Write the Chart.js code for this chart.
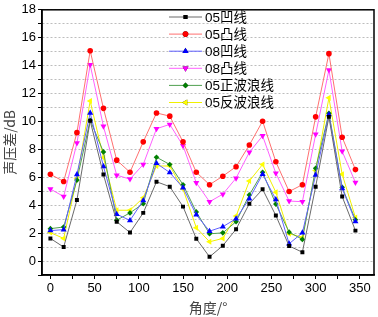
<!DOCTYPE html>
<html>
<head>
<meta charset="utf-8">
<script src="https://cdn.jsdelivr.net/npm/chart.js@4.4.1/dist/chart.umd.min.js"></script>
<style>
  html, body { margin: 0; padding: 0; background: #fff; }
  #wrap { width: 378px; height: 317px; }
</style>
</head>
<body>
<div id="wrap"><canvas id="c"></canvas></div>
<script>
// 角度 (x)
const angles = [0, 15, 30, 45, 60, 75, 90, 105, 120, 135, 150, 165, 180, 195, 210, 225, 240, 255, 270, 285, 300, 315, 330, 345];

// 各系列 声压差/dB
const s05ao = [1.62, 1.0, 4.37, 10.05, 6.2, 2.82, 2.04, 3.45, 5.68, 5.33, 3.9, 1.6, 0.3, 1.1, 2.28, 4.11, 5.14, 3.26, 1.08, 0.63, 5.33, 10.33, 4.62, 2.18];
const s05tu = [6.22, 5.7, 9.2, 15.07, 10.94, 7.23, 6.36, 8.54, 10.61, 10.38, 8.54, 6.36, 5.47, 6.08, 6.76, 8.31, 10.02, 7.11, 4.98, 5.47, 10.33, 14.86, 8.87, 6.55];
const s08ao = [2.18, 2.25, 6.2, 10.61, 6.78, 3.36, 2.91, 4.34, 7.0, 6.34, 5.25, 3.31, 2.14, 2.46, 3.03, 4.46, 6.22, 4.41, 1.24, 2.02, 6.17, 10.49, 5.2, 2.84];
const s08tu = [5.16, 4.62, 8.45, 14.06, 9.65, 6.15, 5.87, 6.92, 9.48, 9.79, 8.26, 5.61, 4.25, 4.79, 5.94, 7.79, 8.97, 6.29, 4.3, 4.25, 9.08, 13.69, 7.86, 5.63];
const s05zheng = [2.32, 2.44, 5.8, 10.09, 7.82, 2.93, 3.45, 4.11, 7.44, 6.92, 5.47, 3.52, 1.95, 2.02, 2.82, 4.74, 6.36, 4.08, 2.07, 1.55, 6.64, 10.59, 5.28, 2.96];
const s05fan = [2.04, 1.62, 5.92, 11.46, 7.42, 3.64, 3.64, 4.53, 6.81, 6.81, 5.16, 2.39, 1.38, 1.62, 3.22, 5.73, 6.92, 4.93, 1.95, 1.71, 6.48, 11.69, 6.22, 3.12];

const seriesNames = ['05凹线', '05凸线', '08凹线', '08凸线', '05正波浪线', '05反波浪线'];

// 刻度 (主刻度带标签, 次刻度无标签)
const xTicks = [0, 25, 50, 75, 100, 125, 150, 175, 200, 225, 250, 275, 300, 325, 350];
const xLabeled = [0, 50, 100, 150, 200, 250, 300, 350];
const yTicks = [-1, 0, 1, 2, 3, 4, 5, 6, 7, 8, 9, 10, 11, 12, 13, 14, 15, 16, 17, 18];
const yLabeled = [0, 2, 4, 6, 8, 10, 12, 14, 16, 18];

const toXY = (arr) => arr.map((v, i) => ({x: angles[i], y: v}));

function ds(label, values, line, point, style, rot) {
    return {
        label: label,
        data: toXY(values),
        borderColor: line,
        borderWidth: 1,
        backgroundColor: point,
        pointBackgroundColor: point,
        pointBorderColor: point,
        pointBorderWidth: 0,
        pointStyle: style,
        pointRotation: rot || 0,
        pointRadius: style === 'triangle' ? 3.5 : 2.8,
        tension: 0,
    };
}

const datasets = [
    ds(seriesNames[0], s05ao, '#6a6a6a', '#000000', 'rect'),
    ds(seriesNames[1], s05tu, '#ff7070', '#ff0000', 'circle'),
    ds(seriesNames[2], s08ao, '#6060ff', '#0000ff', 'triangle'),
    ds(seriesNames[3], s08tu, '#ff60ff', '#ff00ff', 'triangle', 180),
    ds(seriesNames[4], s05zheng, '#50a050', '#008000', 'rectRot'),
    ds(seriesNames[5], s05fan, '#f0f000', '#ffff00', 'triangle', -90),
];

// 图内图例 + 外框
const frameLegend = {
    id: 'frameLegend',
    afterDraw(chart) {
        const c = chart.ctx;
        const a = chart.chartArea;
        c.save();
        c.strokeStyle = '#000';
        c.lineWidth = 1.5;
        c.strokeRect(a.left, a.top, a.right - a.left, a.bottom - a.top);

        c.font = '13.5px "Liberation Sans", "Noto Sans CJK SC", sans-serif';
        c.textBaseline = 'middle';
        c.fillStyle = '#000';
        chart.data.datasets.forEach((d, i) => {
            const y = 17 + i * 17.1;
            c.strokeStyle = d.borderColor;
            c.lineWidth = 1;
            c.beginPath();
            c.moveTo(169, y);
            c.lineTo(202, y);
            c.stroke();
            Chart.helpers.drawPoint(c, {
                pointStyle: d.pointStyle,
                rotation: d.pointRotation,
                radius: d.pointRadius,
                borderWidth: 0,
            }, 185.5, y);
            c.fillStyle = d.pointBackgroundColor;
            c.fill();
            c.fillStyle = '#000';
            c.fillText(d.label, 205, y + 1);
        });
        c.restore();
    }
};

const tickFont = {family: '"Liberation Sans", Arial, sans-serif', size: 13};

new Chart(document.getElementById('c'), {
    type: 'line',
    data: {datasets: datasets},
    plugins: [frameLegend],
    options: {
        responsive: true,
        maintainAspectRatio: false,
        animation: false,
        layout: {padding: {top: 5, right: 1, left: 0, bottom: 0}},
        plugins: {
            legend: {display: false},
            tooltip: {enabled: false},
        },
        scales: {
            x: {
                type: 'linear',
                min: -9.5,
                max: 366,
                afterBuildTicks: (axis) => { axis.ticks = xTicks.map(v => ({value: v})); },
                afterFit: (axis) => { axis.height = 42; },
                ticks: {
                    autoSkip: false,
                    maxRotation: 0,
                    padding: 2,
                    color: '#000',
                    font: tickFont,
                    callback: (v) => (xLabeled.includes(v) ? String(v) : ''),
                },
                grid: {
                    drawOnChartArea: false,
                    drawTicks: true,
                    tickLength: 4,
                    tickColor: '#000',
                    tickWidth: 1,
                },
                border: {color: '#000', width: 1.5},
                title: {
                    display: true,
                    text: '角度/°',
                    color: '#444',
                    font: {family: '"Noto Sans CJK SC", sans-serif', size: 14, lineHeight: 1.0},
                    padding: {top: 0, bottom: 2},
                },
            },
            y: {
                min: -1,
                max: 18,
                afterBuildTicks: (axis) => { axis.ticks = yTicks.map(v => ({value: v})); },
                afterFit: (axis) => { axis.width = 42; },
                ticks: {
                    autoSkip: false,
                    padding: 2,
                    color: '#000',
                    font: tickFont,
                    callback: (v) => (yLabeled.includes(v) ? String(v) : ''),
                },
                grid: {
                    color: '#bdbdbd',
                    lineWidth: 1,
                    drawTicks: true,
                    tickLength: 4,
                    tickColor: '#000',
                    tickBorderDash: [],
                },
                border: {color: '#000', width: 1.5, dash: [2, 2]},
                title: {
                    display: true,
                    text: '声压差/dB',
                    color: '#444',
                    font: {family: '"Noto Sans CJK SC", sans-serif', size: 14, lineHeight: 1.0},
                    padding: {top: 3, bottom: 0},
                },
            },
        },
    },
});
</script>
</body>
</html>
